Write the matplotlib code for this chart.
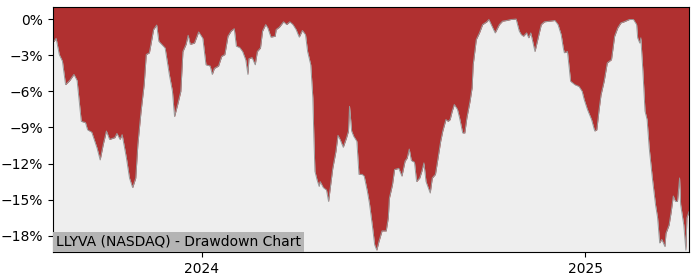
import pandas as pd
import matplotlib
matplotlib.use("Agg")
import matplotlib.pyplot as plt
import matplotlib.dates as mdates
from matplotlib.ticker import PercentFormatter

ticker = "LLYVA (NASDAQ)"

dates = [
    "2023-08-12", "2023-08-13", "2023-08-15", "2023-08-18", "2023-08-21", "2023-08-24",
    "2023-08-28", "2023-09-01", "2023-09-04", "2023-09-08", "2023-09-12", "2023-09-14",
    "2023-09-18", "2023-09-23", "2023-09-26", "2023-09-29", "2023-10-02", "2023-10-05",
    "2023-10-10", "2023-10-12", "2023-10-15", "2023-10-17", "2023-10-21", "2023-10-24",
    "2023-10-27", "2023-10-30", "2023-11-01", "2023-11-04", "2023-11-07", "2023-11-09",
    "2023-11-12", "2023-11-14", "2023-11-16", "2023-11-19", "2023-11-21", "2023-11-27",
    "2023-12-01", "2023-12-04", "2023-12-06", "2023-12-09", "2023-12-12", "2023-12-14",
    "2023-12-17", "2023-12-19", "2023-12-21", "2023-12-25", "2023-12-29", "2024-01-02",
    "2024-01-05", "2024-01-09", "2024-01-11", "2024-01-13", "2024-01-17", "2024-01-20",
    "2024-01-23", "2024-01-26", "2024-01-29", "2024-02-01", "2024-02-03", "2024-02-06",
    "2024-02-09", "2024-02-12", "2024-02-14", "2024-02-15", "2024-02-18", "2024-02-21",
    "2024-02-23", "2024-02-26", "2024-02-28", "2024-03-02", "2024-03-04", "2024-03-07",
    "2024-03-11", "2024-03-12", "2024-03-15", "2024-03-19", "2024-03-22", "2024-03-25",
    "2024-03-28", "2024-03-31", "2024-04-03", "2024-04-06", "2024-04-09", "2024-04-11",
    "2024-04-14", "2024-04-16", "2024-04-17", "2024-04-18", "2024-04-20", "2024-04-22",
    "2024-04-23", "2024-04-26", "2024-04-29", "2024-05-01", "2024-05-03", "2024-05-05",
    "2024-05-08", "2024-05-10", "2024-05-12", "2024-05-15", "2024-05-18", "2024-05-20",
    "2024-05-21", "2024-05-23", "2024-05-25", "2024-05-28", "2024-05-30", "2024-06-02",
    "2024-06-04", "2024-06-07", "2024-06-09", "2024-06-12", "2024-06-14", "2024-06-16",
    "2024-06-18", "2024-06-21", "2024-06-25", "2024-06-27", "2024-06-28", "2024-07-01",
    "2024-07-03", "2024-07-07", "2024-07-10", "2024-07-13", "2024-07-15", "2024-07-17",
    "2024-07-19", "2024-07-22", "2024-07-24", "2024-07-27", "2024-07-29", "2024-07-31",
    "2024-08-02", "2024-08-06", "2024-08-08", "2024-08-11", "2024-08-13", "2024-08-16",
    "2024-08-18", "2024-08-21", "2024-08-23", "2024-08-25", "2024-08-27", "2024-08-29",
    "2024-09-01", "2024-09-03", "2024-09-06", "2024-09-08", "2024-09-10", "2024-09-13",
    "2024-09-15", "2024-09-16", "2024-09-19", "2024-09-22", "2024-09-25", "2024-09-29",
    "2024-10-01", "2024-10-04", "2024-10-07", "2024-10-11", "2024-10-14", "2024-10-18",
    "2024-10-22", "2024-10-27", "2024-10-30", "2024-11-01", "2024-11-03", "2024-11-06",
    "2024-11-08", "2024-11-10", "2024-11-14", "2024-11-17", "2024-11-20", "2024-11-23",
    "2024-11-28", "2024-12-03", "2024-12-06", "2024-12-09", "2024-12-11", "2024-12-12",
    "2024-12-15", "2024-12-18", "2024-12-22", "2024-12-26", "2024-12-29", "2024-12-31",
    "2025-01-03", "2025-01-07", "2025-01-10", "2025-01-12", "2025-01-14", "2025-01-16",
    "2025-01-19", "2025-01-22", "2025-01-26", "2025-01-29", "2025-02-01", "2025-02-04",
    "2025-02-07", "2025-02-12", "2025-02-16", "2025-02-19", "2025-02-20", "2025-02-22",
    "2025-02-23", "2025-02-25", "2025-02-27", "2025-03-01", "2025-03-03", "2025-03-06",
    "2025-03-09", "2025-03-11", "2025-03-13", "2025-03-15", "2025-03-18", "2025-03-19",
    "2025-03-22", "2025-03-24", "2025-03-26", "2025-03-28", "2025-03-30", "2025-04-01",
    "2025-04-02", "2025-04-05", "2025-04-07", "2025-04-08", "2025-04-10",
]

drawdown = [
    -1.9, -1.85, -1.6, -2.95, -3.5, -5.45,
    -5.1, -4.6, -5.1, -8.5, -8.6, -9.2,
    -9.4, -10.7, -11.7, -10.4, -9.3, -10.0,
    -9.85, -9.5, -10.0, -9.6, -11.5, -13.2,
    -14.0, -13.2, -10.4, -7.7, -5.45, -2.95,
    -2.8, -1.85, -0.87, -0.5, -1.85, -2.4,
    -4.6, -6.0, -8.1, -7.1, -6.0, -2.7,
    -2.1, -1.35, -2.1, -2.0, -1.07, -1.6,
    -3.8, -3.9, -4.6, -4.1, -3.9, -3.1,
    -2.95, -1.43, -1.0, -0.8, -2.26, -2.35,
    -2.7, -3.4, -4.6, -3.3, -3.2, -3.8,
    -2.7, -2.4, -1.0, -0.46, -0.73, -1.5,
    -1.43, -0.87, -0.68, -0.23, -0.46, -0.23,
    -0.46, -0.87, -1.5, -0.95, -1.3, -2.7,
    -3.8, -6.55, -9.9, -12.65, -13.35, -13.9,
    -13.5, -14.0, -14.2, -15.15, -13.75, -12.4,
    -11.0, -9.66, -10.0, -10.65, -9.9, -9.3,
    -7.25, -9.3, -9.74, -10.15, -12.9, -12.9,
    -13.05, -14.3, -15.3, -17.3, -18.75, -19.2,
    -18.5, -17.6, -17.6, -16.5, -14.9, -13.75,
    -12.5, -12.4, -13.05, -11.8, -11.55, -10.8,
    -11.75, -11.9, -13.5, -13.2, -12.65, -11.95,
    -13.5, -14.45, -13.2, -12.9, -11.8, -10.15,
    -9.3, -8.35, -8.5, -8.35, -7.65, -7.1,
    -7.5, -8.2, -9.46, -9.46, -8.2, -6.83,
    -5.7, -3.8, -1.7, -1.15, -0.46, -0.23,
    -0.04, -0.6, -1.15, -0.46, -0.18, -0.12,
    -0.04, 0.0, -1.0, -1.3, -1.43, -1.15,
    -1.56, -1.15, -2.7, -1.56, -0.46, -0.23,
    -0.18, -0.12, -0.46, -1.3, -2.4, -2.8,
    -2.7, -5.17, -5.45, -5.6, -6.0, -6.7,
    -7.5, -8.35, -9.3, -9.2, -7.65, -6.3,
    -5.17, -3.64, -3.37, -1.43, -0.73, -0.32,
    -0.23, -0.04, -0.04, -0.46, -1.56, -2.0,
    -1.56, -4.34, -7.65, -8.35, -10.7, -13.2,
    -15.4, -16.5, -18.6, -18.3, -18.9, -17.8,
    -17.1, -16.0, -14.7, -15.15, -15.15, -13.2,
    -15.4, -17.1, -19.2, -16.5, -16.0,
]

yticks = [0, -3, -6, -9, -12, -15, -18]

x = pd.to_datetime(dates)
top, bottom = 1.0, -19.35

fig = plt.figure(figsize=(7, 2.8), dpi=100)
ax = fig.add_axes([0.0757, 0.1, 0.9086, 0.875])
ax.set_facecolor("#eeeeee")

ax.fill_between(x, drawdown, top, color="#b03030", lw=0)
ax.plot(x, drawdown, color="#999999", lw=0.7)

ax.set_xlim(x[0], x[-1])
ax.set_ylim(bottom, top)
ax.set_yticks(yticks)
ax.yaxis.set_major_formatter(PercentFormatter(decimals=0))
ax.xaxis.set_major_locator(mdates.YearLocator())
ax.xaxis.set_major_formatter(mdates.DateFormatter("%Y"))

ax.annotate(ticker + " - Drawdown Chart", xy=(0, 0), xycoords="axes fraction",
            xytext=(2.2, 2.2), textcoords="offset points", ha="left", va="bottom",
            fontsize=10, bbox=dict(facecolor="#b4b4b4", edgecolor="none", pad=2.2))

plt.savefig("out.png")
